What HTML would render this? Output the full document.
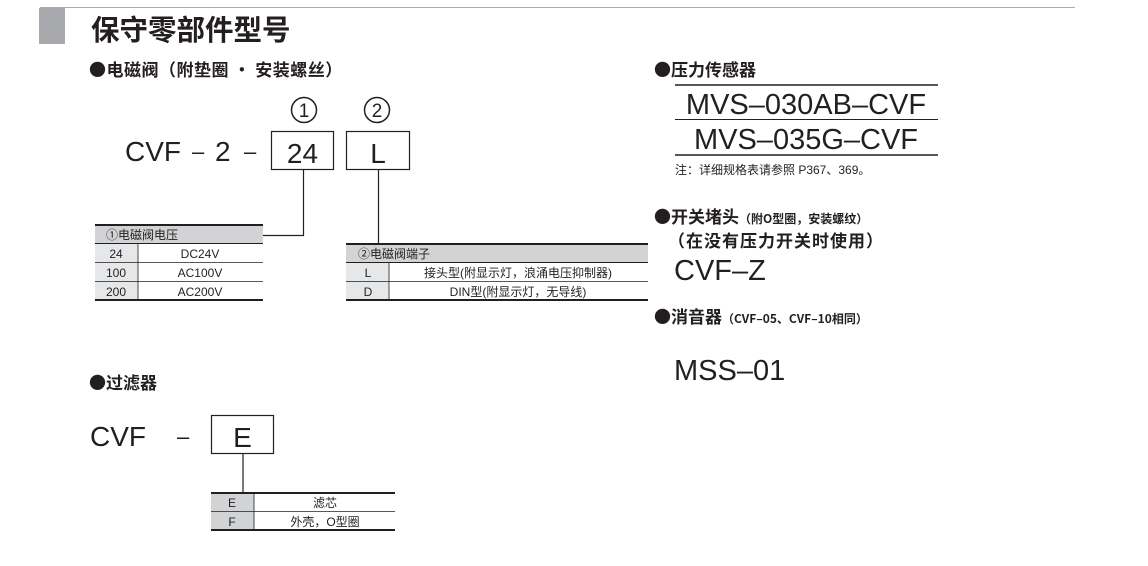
<!DOCTYPE html>
<html><head><meta charset="utf-8"><style>
html,body{margin:0;padding:0;background:#fff;}
svg text{font-family:"Liberation Sans","Noto Sans CJK SC",sans-serif;fill:#231f20;}
svg text.h{font-family:"Noto Sans CJK SC",sans-serif;font-weight:bold;}
.b{font-weight:bold;}
</style></head><body>
<svg width="1148" height="561" viewBox="0 0 1148 561" xmlns="http://www.w3.org/2000/svg">
<line x1="40" y1="7.5" x2="1075" y2="7.5" stroke="#aaa" stroke-width="1"/>
<rect x="39" y="8" width="26" height="36" fill="#a7a9ac"/>
<text x="91" y="40" font-size="28.5" class="h">保守零部件型号</text>
<text x="89" y="76" font-size="17" class="h" letter-spacing="0.5">●电磁阀（附垫圈 · 安装螺丝）</text>

<circle cx="304" cy="110" r="12.5" fill="none" stroke="#231f20" stroke-width="1.5"/>
<text x="304" y="117" font-size="19" text-anchor="middle">1</text>
<circle cx="377" cy="110" r="12.5" fill="none" stroke="#231f20" stroke-width="1.5"/>
<text x="377" y="117" font-size="19" text-anchor="middle">2</text>
<text x="125" y="161" font-size="28">CVF</text>
<text x="192" y="159" font-size="22">–</text>
<text x="215" y="161" font-size="28">2</text>
<text x="244" y="159" font-size="22">–</text>
<rect x="271.5" y="131.5" width="62" height="38" fill="none" stroke="#231f20" stroke-width="1.2"/>
<text x="302.5" y="163" font-size="28" text-anchor="middle">24</text>
<rect x="346.5" y="131.5" width="63" height="38" fill="none" stroke="#231f20" stroke-width="1.2"/>
<text x="378" y="163" font-size="28" text-anchor="middle">L</text>
<polyline points="303.5,170 303.5,235.5 263,235.5" fill="none" stroke="#231f20" stroke-width="1.2"/>
<line x1="378.5" y1="170" x2="378.5" y2="244" stroke="#231f20" stroke-width="1.2"/>

<!-- table 1 -->
<rect x="95" y="226" width="168" height="17" fill="#d1d3d4"/>
<rect x="95" y="244" width="43" height="56" fill="#e6e7e8"/>
<line x1="95" y1="225" x2="263" y2="225" stroke="#231f20" stroke-width="2"/>
<line x1="95" y1="243.5" x2="263" y2="243.5" stroke="#231f20" stroke-width="1"/>
<line x1="95" y1="262.5" x2="263" y2="262.5" stroke="#231f20" stroke-width="0.8"/>
<line x1="95" y1="281.5" x2="263" y2="281.5" stroke="#231f20" stroke-width="0.8"/>
<line x1="95" y1="300" x2="263" y2="300" stroke="#231f20" stroke-width="2"/>
<line x1="138" y1="244" x2="138" y2="300" stroke="#231f20" stroke-width="0.8"/>
<text x="106" y="239" font-size="12">①电磁阀电压</text>
<text x="116" y="258" font-size="12" text-anchor="middle">24</text>
<text x="200" y="258" font-size="12" text-anchor="middle">DC24V</text>
<text x="116" y="277" font-size="12" text-anchor="middle">100</text>
<text x="200" y="277" font-size="12" text-anchor="middle">AC100V</text>
<text x="116" y="296" font-size="12" text-anchor="middle">200</text>
<text x="200" y="296" font-size="12" text-anchor="middle">AC200V</text>

<!-- table 2 -->
<rect x="346" y="245" width="302" height="17" fill="#d1d3d4"/>
<rect x="346" y="263" width="43" height="37" fill="#e6e7e8"/>
<line x1="346" y1="244" x2="648" y2="244" stroke="#231f20" stroke-width="2"/>
<line x1="346" y1="262.5" x2="648" y2="262.5" stroke="#231f20" stroke-width="1"/>
<line x1="346" y1="281.5" x2="648" y2="281.5" stroke="#231f20" stroke-width="0.8"/>
<line x1="346" y1="300" x2="648" y2="300" stroke="#231f20" stroke-width="2"/>
<line x1="389" y1="263" x2="389" y2="300" stroke="#231f20" stroke-width="0.8"/>
<text x="358" y="258" font-size="12">②电磁阀端子</text>
<text x="368" y="277" font-size="12" text-anchor="middle">L</text>
<text x="518" y="277" font-size="12" text-anchor="middle">接头型(附显示灯，浪涌电压抑制器)</text>
<text x="368" y="296" font-size="12" text-anchor="middle">D</text>
<text x="518" y="296" font-size="12" text-anchor="middle">DIN型(附显示灯，无导线)</text>

<!-- filter -->
<text x="89" y="389" font-size="17" class="h">●过滤器</text>
<text x="90" y="446" font-size="28">CVF</text>
<text x="177" y="444" font-size="22">–</text>
<rect x="211.5" y="415.5" width="62" height="38" fill="none" stroke="#231f20" stroke-width="1.2"/>
<text x="242.5" y="447" font-size="28" text-anchor="middle">E</text>
<line x1="243" y1="454" x2="243" y2="493" stroke="#231f20" stroke-width="1.2"/>
<rect x="211" y="493" width="43" height="37" fill="#d1d3d4"/>
<line x1="211" y1="493" x2="395" y2="493" stroke="#231f20" stroke-width="2"/>
<line x1="211" y1="511.5" x2="395" y2="511.5" stroke="#231f20" stroke-width="0.8"/>
<line x1="211" y1="530" x2="395" y2="530" stroke="#231f20" stroke-width="2"/>
<line x1="254" y1="493" x2="254" y2="530" stroke="#231f20" stroke-width="0.8"/>
<text x="232" y="507" font-size="12" text-anchor="middle">E</text>
<text x="325" y="507" font-size="12" text-anchor="middle">滤芯</text>
<text x="232" y="526" font-size="12" text-anchor="middle">F</text>
<text x="325" y="526" font-size="12" text-anchor="middle">外壳，O型圈</text>

<!-- right -->
<text x="654" y="76" font-size="17" class="h">●压力传感器</text>
<line x1="675" y1="85" x2="938" y2="85" stroke="#231f20" stroke-width="1.5"/>
<text x="806" y="114" font-size="29" text-anchor="middle">MVS–030AB–CVF</text>
<line x1="675" y1="119.5" x2="938" y2="119.5" stroke="#231f20" stroke-width="1"/>
<text x="806" y="149" font-size="29" text-anchor="middle">MVS–035G–CVF</text>
<line x1="675" y1="155" x2="938" y2="155" stroke="#231f20" stroke-width="1.5"/>
<text x="675" y="174" font-size="12">注：详细规格表请参照 P367、369。</text>
<text x="654" y="223" font-size="17" class="h">●开关堵头<tspan font-size="12">（附O型圈，安装螺纹）</tspan></text>
<text x="668" y="247" font-size="17" class="h" letter-spacing="1">（在没有压力开关时使用）</text>
<text x="674" y="280" font-size="29">CVF–Z</text>
<text x="654" y="323" font-size="17" class="h">●消音器<tspan font-size="12">（CVF–05、CVF–10相同）</tspan></text>
<text x="674" y="380" font-size="29">MSS–01</text>
</svg>
</body></html>
